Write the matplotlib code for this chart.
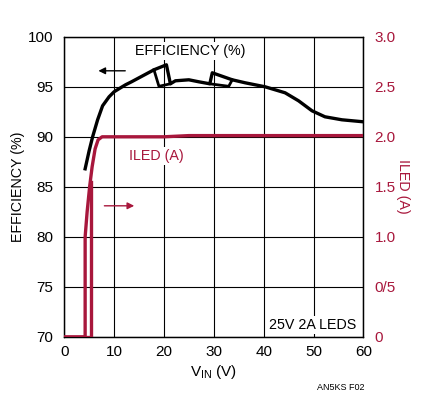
import matplotlib
matplotlib.use("Agg")
import matplotlib.pyplot as plt

plt.rcParams['font.family'] = ['Liberation Sans', 'DejaVu Sans']

RED = '#a8173c'
FS = 10.3

# Efficiency main curve (V, %)
eff_v = [4.2, 5.0, 5.7, 6.7, 7.7, 9.0, 10.0, 11.3, 12.3, 13.5, 15.0, 16.5, 18.0, 20.5, 21.3,
         22.3, 25.0, 27.0, 29.2, 29.7, 33.7, 36.3, 40.3, 44.3, 47.0, 49.7, 52.3, 55.7, 60.0]
eff_y = [86.8, 88.6, 90.0, 91.7, 93.1, 94.0, 94.5, 94.9, 95.2, 95.5, 95.9, 96.3, 96.7, 97.2, 95.3,
         95.6, 95.7, 95.5, 95.3, 96.4, 95.7, 95.4, 95.0, 94.4, 93.6, 92.6, 92.0, 91.7, 91.5]
# Hysteresis loop segments
loop1_v = [18.0, 19.0, 21.3]
loop1_y = [96.7, 95.05, 95.3]
loop2_v = [29.2, 33.0, 33.7]
loop2_y = [95.3, 95.05, 95.7]

# LED current (V, A)
iled_v = [0.0, 4.2, 4.2, 4.6, 5.1, 5.6, 6.2, 6.8, 7.6, 10.0, 20.0, 25.0, 40.0, 60.0]
iled_a = [0.0, 0.0, 1.0, 1.25, 1.5, 1.7, 1.88, 1.97, 2.0, 2.0, 2.0, 2.012, 2.012, 2.012]
iled2_v = [4.2, 5.35, 5.35]
iled2_a = [0.0, 0.0, 1.55]

x_ticks = [0, 10, 20, 30, 40, 50, 60]
eff_ticks = [70, 75, 80, 85, 90, 95, 100]
i_ticks = [0, 0.5, 1.0, 1.5, 2.0, 2.5, 3.0]
i_labels = ['0', '0/5', '1.0', '1.5', '2.0', '2.5', '3.0']

fig = plt.figure(figsize=(4.28, 4.0), dpi=100)
ax = fig.add_axes([0.150, 0.158, 0.699, 0.750])
ax2 = ax.twinx()

ax.set_xlim(0, 60)
ax.set_ylim(70, 100)
ax2.set_ylim(0, 3.0)
ax.set_xticks(x_ticks)
ax.set_yticks(eff_ticks)
ax2.set_yticks(i_ticks)
ax2.set_yticklabels(i_labels)

ax.grid(True, color='black', linewidth=0.8)
ax.set_axisbelow(True)
for a in (ax, ax2):
    a.tick_params(length=0, labelsize=FS + 0.7, pad=8)
    for s in a.spines.values():
        s.set_linewidth(0.9)
        s.set_color('black')
ax.tick_params(axis='x', pad=6)
ax2.tick_params(axis='y', colors=RED, labelcolor=RED, pad=8)

ax.plot(eff_v, eff_y, color='black', lw=2.4, solid_joinstyle='round', zorder=5)
ax.plot(loop1_v, loop1_y, color='black', lw=2.0, zorder=5)
ax.plot(loop2_v, loop2_y, color='black', lw=2.0, zorder=5)

ax2.plot(iled_v, iled_a, color=RED, lw=2.4, zorder=5)
ax2.plot(iled2_v, iled2_a, color=RED, lw=2.4, zorder=5)

box = dict(facecolor='white', edgecolor='none', pad=1.5)
ax.text(25.3, 98.55, 'EFFICIENCY (%)', ha='center', va='center', fontsize=FS, bbox=box, zorder=3)
ax.text(13.0, 88.1, 'ILED (A)', ha='left', va='center', fontsize=FS, color=RED, bbox=box, zorder=3)
ax.text(58.5, 71.2, '25V 2A LEDS', ha='right', va='center', fontsize=FS, bbox=box, zorder=3)

ax.annotate('', xy=(6.3, 96.6), xytext=(12.8, 96.6),
            arrowprops=dict(arrowstyle='-|>', color='black', lw=1.0, mutation_scale=10), zorder=6)
ax2.annotate('', xy=(14.6, 1.31), xytext=(7.5, 1.31),
             arrowprops=dict(arrowstyle='-|>', color=RED, lw=1.0, mutation_scale=10), zorder=6)

ax.set_xlabel('V$_{\\mathregular{IN}}$ (V)', fontsize=FS + 0.7, labelpad=3)
ax.set_ylabel('EFFICIENCY (%)', fontsize=FS, labelpad=2)
ax2.set_ylabel('ILED (A)', fontsize=FS, color=RED, rotation=270, labelpad=10)

fig.text(0.852, 0.03, 'AN5KS F02', fontsize=6.5, ha='right', va='center')

fig.savefig('out.png', dpi=100)
